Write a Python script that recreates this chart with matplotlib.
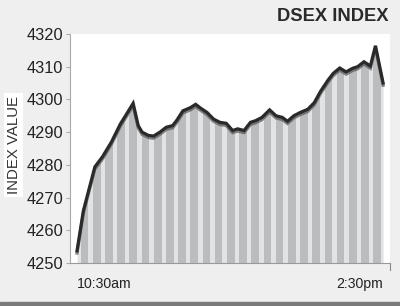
import numpy as np
import matplotlib
matplotlib.use("Agg")
import matplotlib.pyplot as plt
import matplotlib.patheffects as pe

plt.rcParams['font.family'] = ['Liberation Sans', 'DejaVu Sans']

# minutes after 10:30am, DSEX index value
minutes = [0, 5, 14, 20, 27, 34, 38, 44, 48, 51, 56, 60, 65, 70, 75, 78, 83, 89,
           93, 97, 102, 107, 112, 117, 122, 126, 131, 136, 140, 145, 151, 156, 161,
           165, 170, 175, 181, 186, 191, 197, 201, 206, 211, 216, 220, 225, 230,
           234, 240]
values = [4253.7, 4266.0, 4279.4, 4282.5, 4287.0, 4292.5, 4295.0, 4298.8, 4292.0,
          4290.0, 4289.0, 4288.8, 4290.0, 4291.5, 4292.0, 4293.5, 4296.5, 4297.5,
          4298.5, 4297.3, 4296.0, 4294.0, 4293.0, 4292.7, 4290.5, 4291.0, 4290.5,
          4293.0, 4293.5, 4294.5, 4296.8, 4295.0, 4294.5, 4293.3, 4295.0, 4296.0,
          4297.0, 4299.0, 4302.5, 4306.0, 4308.0, 4309.6, 4308.4, 4309.5, 4310.0,
          4311.5, 4310.2, 4316.4, 4305.0]
yticks = [4250, 4260, 4270, 4280, 4290, 4300, 4310, 4320]
xlabels = ["10:30am", "2:30pm"]

fig = plt.figure(figsize=(4.0, 3.06), dpi=100, facecolor='#efefef')
ax = fig.add_axes([0.175, 0.1405, 0.8, 0.7485])
ax.set_facecolor('white')

x = np.array(minutes)
y = np.array(values)
ax.set_xlim(-5.5, 245.4)
ax.set_ylim(yticks[0], yticks[-1])

# light fill under the line, then darker stripes clipped to it
fill = ax.fill_between(x, yticks[0], y, color='#e2e3e4', lw=0, zorder=1)
clip = fill.get_paths()[0]
for c in np.arange(5.9, 240, 9.56):
    sp = ax.axvspan(c - 3.0, c + 3.0, color='#bbbcbe', lw=0, zorder=2)
    sp.set_clip_path(clip, ax.transData)

ax.plot(x, y, color='#2a2a2a', lw=2.3, zorder=4, solid_joinstyle='miter',
        path_effects=[pe.SimpleLineShadow(offset=(0, -1.6), shadow_color='#555555', alpha=0.7),
                      pe.Normal()])

for s in ['top', 'right']:
    ax.spines[s].set_visible(False)
ax.spines['left'].set_color('#aaaaaa')
ax.spines['bottom'].set_color('#999999')
ax.spines['left'].set_linewidth(0.8)
ax.spines['bottom'].set_linewidth(0.8)

ax.set_yticks(yticks)
ax.tick_params(axis='y', length=3, color='#aaaaaa', labelsize=11.8, labelcolor='#222222', pad=2)
ax.set_xticks([])
ax.plot([1, 1], [0, -0.03], transform=ax.transAxes, color='#888888', lw=0.8, clip_on=False)

ax.text(0, -0.06, xlabels[0], transform=ax.get_xaxis_transform(), ha='left', va='top',
        fontsize=10.2, color='#222222')
ax.text(240, -0.06, xlabels[1], transform=ax.get_xaxis_transform(), ha='right', va='top',
        fontsize=10.2, color='#222222')

fig.text(0.034, 0.525, "INDEX VALUE", rotation=90, ha='center', va='center', fontsize=10.8,
         color='#333333', bbox=dict(facecolor='white', edgecolor='none', pad=2))
fig.text(0.972, 0.945, "DSEX INDEX", ha='right', va='center', fontsize=13.2,
         fontweight='bold', color='#2a2a2a')

fig.patches.append(plt.Rectangle((0, 0), 1, 0.014, transform=fig.transFigure,
                                 color='#7a7a7a', zorder=0))

fig.savefig("out.png", dpi=100, facecolor=fig.get_facecolor())
